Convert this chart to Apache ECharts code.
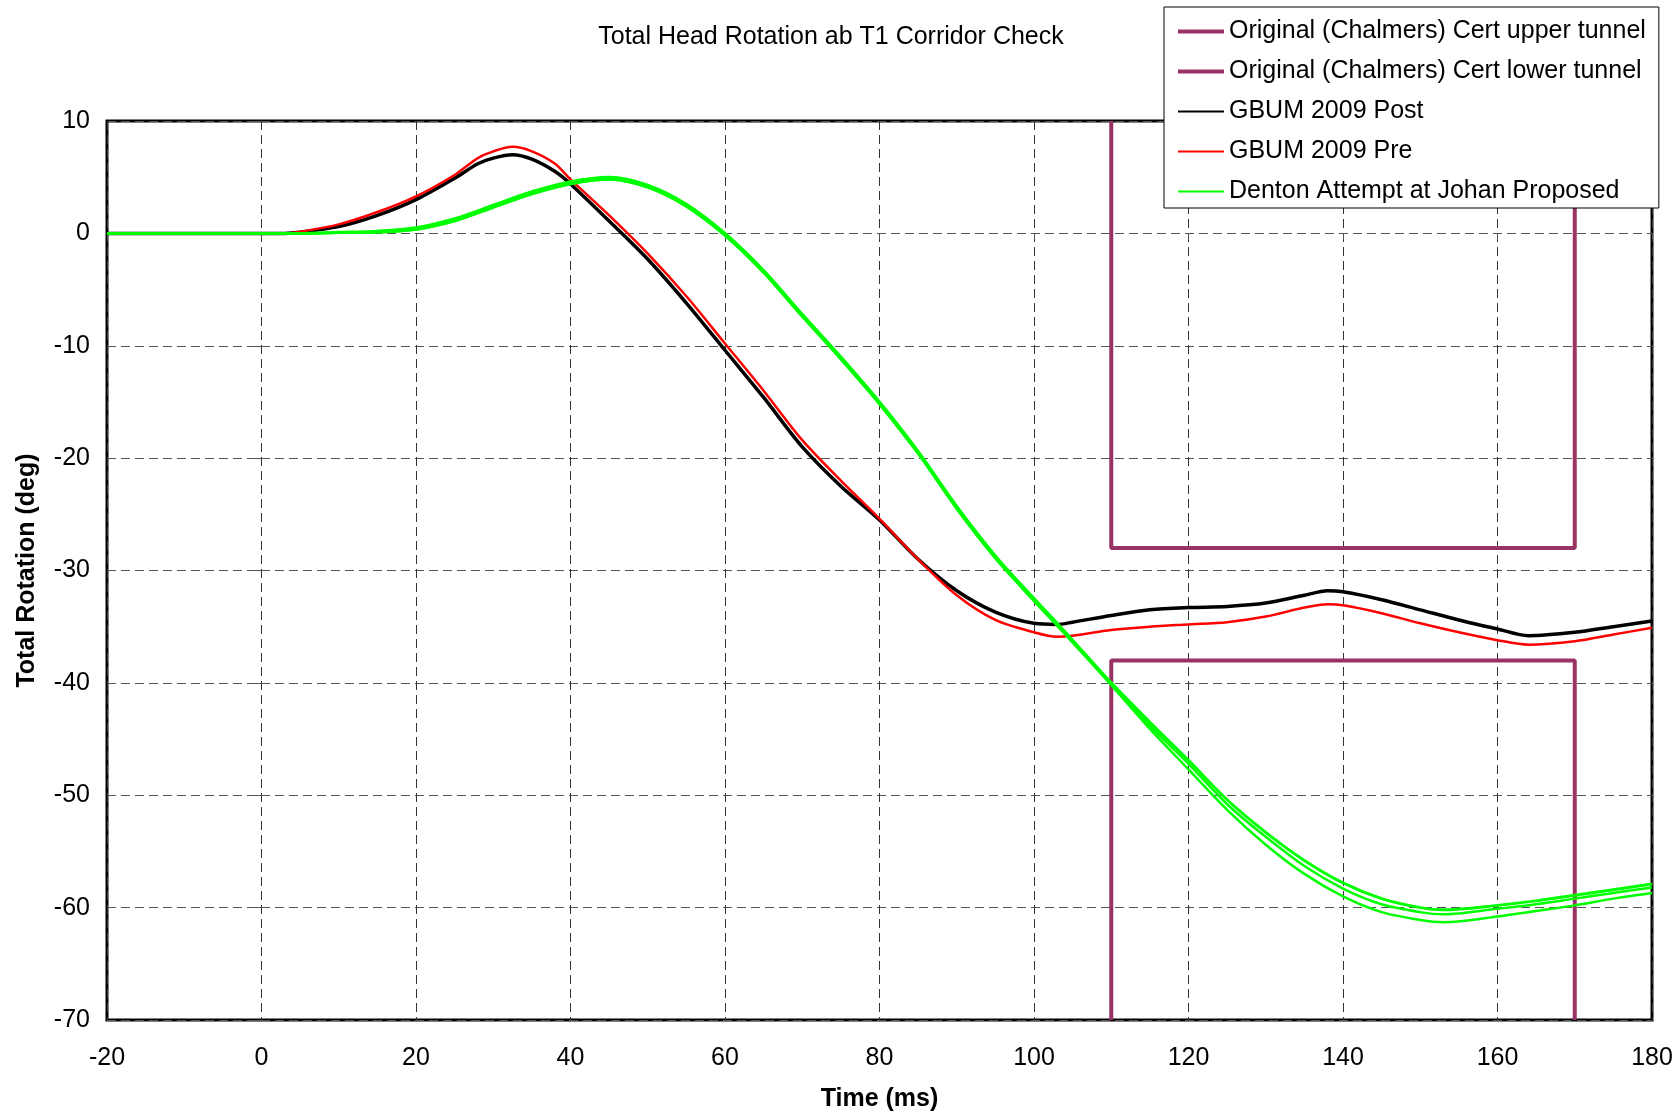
<!DOCTYPE html>
<html>
<head>
<meta charset="utf-8">
<script src="https://cdn.jsdelivr.net/npm/echarts@6/dist/echarts.min.js"></script>
<style>
html,body{margin:0;padding:0;background:#fff;}
#chart{width:1678px;height:1115px;}
</style>
</head>
<body>
<div id="chart"></div>
<script>
// ---- data ----
const chartTitle = 'Total Head Rotation ab T1 Corridor Check';
const xTicks = [-20, 0, 20, 40, 60, 80, 100, 120, 140, 160, 180];
const yTicks = [-70, -60, -50, -40, -30, -20, -10, 0, 10];

const tunnelUpperX = [110, 110, 170, 170];
const tunnelUpperY = [10, -28, -28, 10];
const tunnelLowerX = [110, 110, 170, 170];
const tunnelLowerY = [-70, -38, -38, -70];

const gbumTime = [-20, -10, 0, 3, 5, 10, 15, 20, 25, 28, 30, 32.5, 35, 38, 40, 45, 50, 55, 60, 65, 70, 75, 80, 85, 90, 95, 100, 103, 105, 110, 115, 120, 125, 130, 135, 138, 140, 145, 150, 155, 160, 164, 170, 175, 180];
const gbumPost = [0, 0, 0, 0, 0.1, 0.6, 1.6, 3.0, 4.9, 6.2, 6.7, 7.0, 6.6, 5.5, 4.4, 1.1, -2.3, -6.2, -10.4, -14.6, -19.0, -22.5, -25.5, -29.0, -31.8, -33.7, -34.7, -34.8, -34.6, -34.0, -33.5, -33.3, -33.2, -32.9, -32.2, -31.8, -31.9, -32.6, -33.5, -34.4, -35.2, -35.8, -35.5, -35.0, -34.5];
const gbumPre  = [0, 0, 0, 0, 0.15, 0.8, 1.9, 3.3, 5.2, 6.7, 7.3, 7.7, 7.3, 6.2, 4.8, 1.6, -1.8, -5.6, -9.8, -14.0, -18.4, -22.0, -25.4, -29.0, -32.2, -34.4, -35.5, -35.9, -35.8, -35.3, -35.0, -34.8, -34.6, -34.1, -33.3, -33.0, -33.1, -33.8, -34.7, -35.5, -36.2, -36.6, -36.3, -35.7, -35.1];

const dentonTime = [-20, 0, 5, 10, 15, 20, 25, 30, 35, 40, 45, 50, 55, 60, 65, 70, 75, 80, 85, 90, 95, 100, 103, 105, 110, 115, 120, 125, 130, 135, 140, 145, 150, 153, 160, 165, 170, 175, 180];
const dentonA = [0, 0, 0, 0.1, 0.2, 0.5, 1.3, 2.5, 3.7, 4.6, 5.0, 4.3, 2.6, 0, -3.3, -7.2, -11.0, -15.0, -19.4, -24.3, -28.7, -32.5, -34.7, -36.2, -40.0, -43.5, -46.9, -50.4, -53.3, -55.8, -57.8, -59.2, -60.0, -60.2, -59.8, -59.4, -58.9, -58.4, -57.9];
const dentonB = [0, 0, 0, 0.05, 0.1, 0.35, 1.1, 2.3, 3.5, 4.4, 4.8, 4.1, 2.4, -0.2, -3.5, -7.4, -11.2, -15.2, -19.6, -24.5, -28.9, -32.7, -34.9, -36.4, -40.1, -43.8, -47.2, -50.8, -53.7, -56.3, -58.3, -59.7, -60.4, -60.6, -60.1, -59.7, -59.2, -58.7, -58.2];
const dentonC = [0, 0, 0, 0.05, 0.1, 0.35, 1.1, 2.3, 3.5, 4.4, 4.8, 4.1, 2.4, -0.2, -3.5, -7.4, -11.2, -15.2, -19.6, -24.5, -28.9, -32.7, -34.9, -36.4, -40.2, -44.1, -47.7, -51.3, -54.4, -57.0, -59.0, -60.4, -61.1, -61.3, -60.8, -60.3, -59.8, -59.2, -58.7];

const names = [
  'Original (Chalmers) Cert upper tunnel',
  'Original (Chalmers) Cert lower tunnel',
  'GBUM 2009 Post',
  'GBUM 2009 Pre',
  'Denton Attempt at Johan Proposed'
];

// ---- build ----
function pairs(xs, ys) { return xs.map((x, i) => [x, ys[i]]); }
const FONT = '"Liberation Sans", Arial, sans-serif';
const PURPLE = '#993366';
const FS = 25;

const chart = echarts.init(document.getElementById('chart'), null, {renderer: 'canvas'});
const option = {
  animation: false,
  backgroundColor: '#ffffff',
  textStyle: {fontFamily: FONT, color: '#000'},
  title: {
    text: chartTitle,
    left: 826, top: 20, textAlign: 'center',
    textStyle: {fontFamily: FONT, fontSize: FS, fontWeight: 'normal', color: '#000'}
  },
  legend: {
    data: [
      {name: names[0], lineStyle: {width: 4}},
      {name: names[1], lineStyle: {width: 4}},
      {name: names[2], lineStyle: {width: 2}},
      {name: names[3], lineStyle: {width: 2}},
      {name: names[4], lineStyle: {width: 2}}
    ],
    orient: 'vertical',
    left: 1164, top: 7,
    padding: [12, 13, 4, 12],
    itemWidth: 46, itemHeight: 14, itemGap: 15,
    itemStyle: {opacity: 0},
    backgroundColor: '#ffffff',
    borderColor: '#000', borderWidth: 1,
    textStyle: {fontFamily: FONT, fontSize: FS, color: '#000', lineHeight: 25},
    z: 10
  },
  grid: {
    left: 107, top: 121, right: 26, bottom: 95,
    show: true, borderColor: '#000', borderWidth: 3,
    containLabel: false, outerBoundsMode: 'none'
  },
  xAxis: {
    type: 'value', min: -20, max: 180, interval: 20,
    name: 'Time (ms)', nameLocation: 'middle', nameGap: 67,
    nameTextStyle: {fontFamily: FONT, fontSize: FS, fontWeight: 'bold', color: '#000'},
    axisLine: {show: false},
    axisTick: {show: true, inside: false, length: 6, lineStyle: {color: '#555'}},
    axisLabel: {fontFamily: FONT, fontSize: FS, color: '#000', margin: 26, showMinLabel: true, showMaxLabel: true},
    splitLine: {show: true, lineStyle: {color: '#333', type: [9, 5], width: 1}}
  },
  yAxis: {
    type: 'value', min: -70, max: 10, interval: 10,
    name: 'Total Rotation (deg)', nameLocation: 'middle', nameGap: 67,
    nameTextStyle: {fontFamily: FONT, fontSize: FS, fontWeight: 'bold', color: '#000'},
    axisLine: {show: false},
    axisTick: {show: true, inside: false, length: 6, lineStyle: {color: '#555'}},
    axisLabel: {fontFamily: FONT, fontSize: FS, color: '#000', margin: 17, showMinLabel: true, showMaxLabel: true},
    splitLine: {show: true, lineStyle: {color: '#555', type: [9, 5], width: 1}}
  },
  series: [
    {name: names[0], type: 'line', data: pairs(tunnelUpperX, tunnelUpperY), symbol: 'none',
     lineStyle: {color: PURPLE, width: 4}, itemStyle: {color: PURPLE}, z: 2},
    {name: names[1], type: 'line', data: pairs(tunnelLowerX, tunnelLowerY), symbol: 'none',
     lineStyle: {color: PURPLE, width: 4}, itemStyle: {color: PURPLE}, z: 2},
    {name: names[2], type: 'line', data: pairs(gbumTime, gbumPost), symbol: 'none', smooth: 0.3,
     lineStyle: {color: '#000', width: 3.5}, itemStyle: {color: '#000'}, z: 3},
    {name: names[3], type: 'line', data: pairs(gbumTime, gbumPre), symbol: 'none', smooth: 0.3,
     lineStyle: {color: '#ff0000', width: 2.5}, itemStyle: {color: '#ff0000'}, z: 3},
    {name: names[4], type: 'line', data: pairs(dentonTime, dentonA), symbol: 'none', smooth: 0.3,
     lineStyle: {color: '#00ff00', width: 3}, itemStyle: {color: '#00ff00'}, z: 4},
    {name: 'Denton run 2', type: 'line', data: pairs(dentonTime, dentonB), symbol: 'none', smooth: 0.3,
     lineStyle: {color: '#00ff00', width: 2.5}, itemStyle: {color: '#00ff00'}, z: 4},
    {name: 'Denton run 3', type: 'line', data: pairs(dentonTime, dentonC), symbol: 'none', smooth: 0.3,
     lineStyle: {color: '#00ff00', width: 2.5}, itemStyle: {color: '#00ff00'}, z: 4}
  ]
};
chart.setOption(option);
</script>
</body>
</html>
